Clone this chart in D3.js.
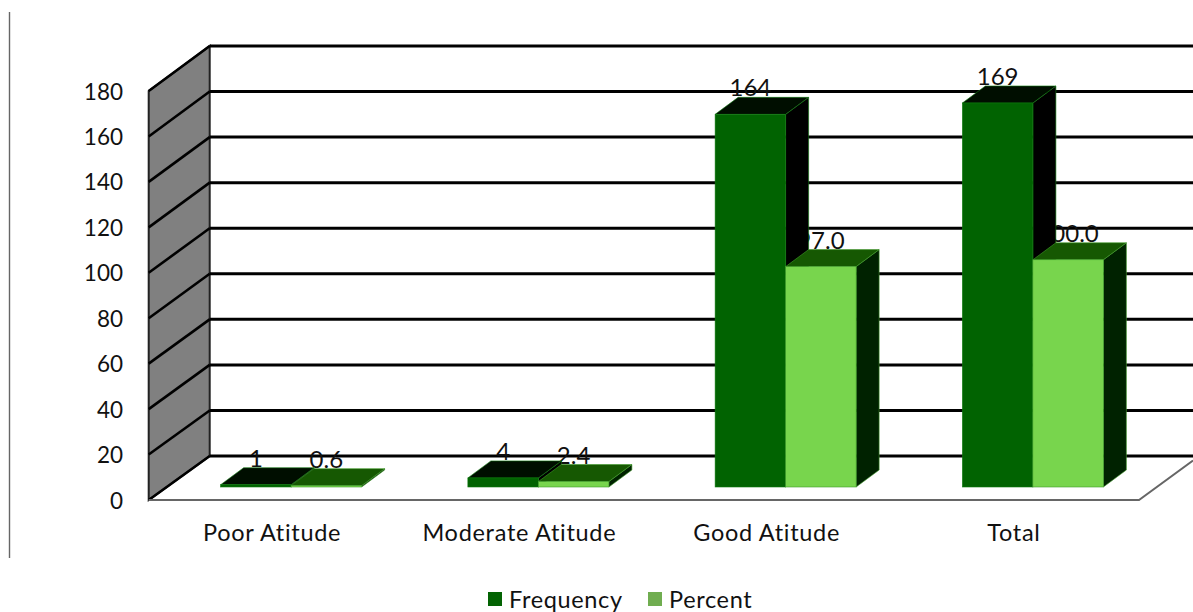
<!DOCTYPE html>
<html><head><meta charset="utf-8">
<script src="https://cdn.jsdelivr.net/npm/d3@7"></script>
<style>html,body{margin:0;padding:0;background:#fff}svg{display:block}text{font-family:Lato,"Open Sans",sans-serif;fill:#111}</style>
</head><body>
<svg id="c" width="1193" height="612"></svg>
<script>
const categories = ["Poor Atitude","Moderate Atitude","Good Atitude","Total"];
const seriesNames = ["Frequency","Percent"];
const frequency = [1,4,164,169];
const percent = [0.6,2.4,97.0,100.0];
const percentLabels = ["0.6","2.4","97.0","100.0"];
const yTicks = [0,20,40,60,80,100,120,140,160,180];

const svg = d3.select("#c");
const depthWall = {dx:61, dy:-44.5};
const yFront = d3.scaleLinear().domain([0,180]).range([500,91]);
const yBack = d3.scaleLinear().domain([0,180]).range([456,46]);
const yBar = d3.scaleLinear().domain([0,180]).range([487,78]);
const x0 = d3.scaleBand().domain(categories).range([150,1139]);
const x1 = d3.scaleBand().domain(seriesNames).range([0,141]);
const colors = {
  Frequency:{front:"#016301",top:"#000e00",side:"#000000",edge:"#0f7a0f"},
  Percent:{front:"#78d54d",top:"#165802",side:"#002200",edge:"#3f9a2a"}
};
const legendColors = ["#036303","#70ad50"];
const barDepth = {dx:23, dy:-17};

// side wall
const wx0 = 148.7, wx1 = wx0 + depthWall.dx;
svg.append("polygon")
  .attr("points",[[wx0,yFront(180)],[wx1,yBack(180)],[wx1,yBack(0)],[wx0,yFront(0)]].join(" "))
  .attr("fill","#808080").attr("stroke","#222").attr("stroke-width",2);

// back-wall grid and its run along the side wall
svg.append("g").selectAll("line.b").data(yTicks).join("line")
  .attr("x1",wx1).attr("x2",1193).attr("y1",d=>yBack(d)).attr("y2",d=>yBack(d))
  .attr("stroke","#000").attr("stroke-width",3);
svg.append("g").selectAll("line.s").data(yTicks).join("line")
  .attr("x1",wx0).attr("x2",wx1).attr("y1",d=>yFront(d)).attr("y2",d=>yBack(d))
  .attr("stroke","#000").attr("stroke-width",2.6);

// floor edge
svg.append("path").attr("fill","none").attr("stroke","#666").attr("stroke-width",2)
  .attr("d",d3.line()([[wx0,yFront(0)],[1139,yFront(0)],[1193,yFront(0)-54*44.5/61]]));

// page rule at left
svg.append("line").attr("x1",9.5).attr("x2",9.5).attr("y1",12).attr("y2",558)
  .attr("stroke","#666").attr("stroke-width",1.4);

// tick labels
svg.append("g").selectAll("text").data(yTicks).join("text")
  .attr("x",123).attr("y",d=>yFront(d)+8.5).attr("text-anchor","end")
  .attr("font-size",22.5).text(d=>d);

// category labels
svg.append("g").selectAll("text").data(categories).join("text")
  .attr("x",d=>x0(d)+x0.bandwidth()/2-1.5).attr("y",541).attr("text-anchor","middle")
  .attr("font-size",23.5).attr("letter-spacing",0.7).text(d=>d);

const groupLeft = c => x0(c)+x0.bandwidth()/2-x1.range()[1]/2+17.5;
const rows = [];
categories.forEach((c,i)=>{
  rows.push({c,s:"Frequency",v:frequency[i],label:String(frequency[i])});
  rows.push({c,s:"Percent",v:percent[i],label:percentLabels[i]});
});

// data labels sit behind the bars, as in the source
svg.append("g").selectAll("text").data(rows).join("text")
  .attr("x",d=>groupLeft(d.c)+x1(d.s)+x1.bandwidth()/2)
  .attr("y",d=>yBar(d.v)-18).attr("text-anchor","middle")
  .attr("font-size",24).text(d=>d.label);

// bars
const bars = svg.append("g").selectAll("g").data(rows).join("g");
bars.each(function(d){
  const g = d3.select(this);
  const l = groupLeft(d.c)+x1(d.s), r = l+x1.bandwidth();
  const t = yBar(d.v), b = yBar(0), col = colors[d.s];
  g.append("polygon").attr("fill",col.side).attr("stroke",col.edge).attr("stroke-width",.6)
    .attr("points",[[r,t],[r+barDepth.dx,t+barDepth.dy],[r+barDepth.dx,b+barDepth.dy],[r,b]].join(" "));
  g.append("polygon").attr("fill",col.top).attr("stroke",col.edge).attr("stroke-width",.6)
    .attr("points",[[l,t],[l+barDepth.dx,t+barDepth.dy],[r+barDepth.dx,t+barDepth.dy],[r,t]].join(" "));
  g.append("rect").attr("x",l).attr("y",t).attr("width",r-l).attr("height",b-t)
    .attr("fill",col.front).attr("stroke",col.edge).attr("stroke-width",.6);
});

// legend
const legendX = [488,648], legendTextX = [509,669];
const lg = svg.append("g").selectAll("g").data(seriesNames).join("g");
lg.append("rect").attr("x",(d,i)=>legendX[i]).attr("y",592).attr("width",14).attr("height",14)
  .attr("fill",(d,i)=>legendColors[i]);
lg.append("text").attr("x",(d,i)=>legendTextX[i]).attr("y",608).attr("font-size",23.5).attr("letter-spacing",0.65).text(d=>d);
</script>
</body></html>
